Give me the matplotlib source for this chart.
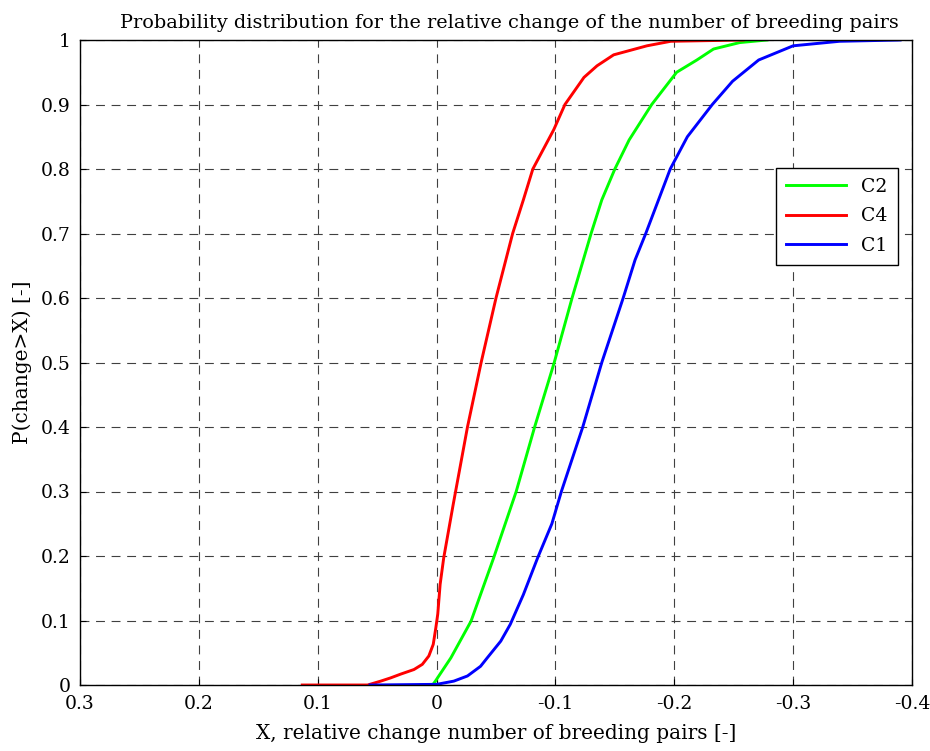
import matplotlib
matplotlib.use("Agg")
from matplotlib import pyplot as plt

c2_x = [0.013, 0.003, 0.001, -0.012, -0.029, -0.048, -0.067, -0.0825, -0.099,
        -0.114, -0.130, -0.139, -0.150, -0.162, -0.181, -0.202, -0.219, -0.233, -0.255,
        -0.278]
c2_y = [0.0, 0.001, 0.006, 0.042, 0.099, 0.197, 0.300, 0.400, 0.500,
        0.600, 0.700, 0.752, 0.800, 0.845, 0.900, 0.950, 0.969, 0.986, 0.996,
        1.0]

c4_x = [0.113, 0.058, 0.047, 0.0387, 0.030, 0.019, 0.012, 0.0065, 0.0028, 0.0006,
        -0.001, -0.003, -0.006, -0.014, -0.026, -0.0375, -0.050, -0.064,
        -0.073, -0.081, -0.0986, -0.108, -0.124, -0.135, -0.149, -0.177, -0.197,
        -0.258]
c4_y = [0.0, 0.0, 0.006, 0.011, 0.017, 0.024, 0.032, 0.045, 0.063, 0.089,
        0.110, 0.156, 0.197, 0.280, 0.400, 0.500, 0.600, 0.700,
        0.752, 0.800, 0.861, 0.900, 0.942, 0.960, 0.977, 0.991, 0.998,
        1.0]

c1_x = [0.056, 0.0, -0.0145, -0.026, -0.037, -0.0426, -0.054, -0.062, -0.073, -0.085,
        -0.097, -0.105, -0.123, -0.139, -0.157, -0.167, -0.176, -0.1966, -0.211,
        -0.232, -0.249, -0.271, -0.300, -0.339, -0.390]
c1_y = [0.0, 0.001, 0.006, 0.014, 0.029, 0.042, 0.068, 0.094, 0.140, 0.197,
        0.250, 0.300, 0.400, 0.500, 0.600, 0.659, 0.700, 0.800, 0.850,
        0.900, 0.936, 0.969, 0.991, 0.998, 1.0]

x_ticks = [0.3, 0.2, 0.1, 0, -0.1, -0.2, -0.3, -0.4]
x_labels = ["0.3", "0.2", "0.1", "0", "-0.1", "-0.2", "-0.3", "-0.4"]
y_ticks = [0, 0.1, 0.2, 0.3, 0.4, 0.5, 0.6, 0.7, 0.8, 0.9, 1]
y_labels = ["0", "0.1", "0.2", "0.3", "0.4", "0.5", "0.6", "0.7", "0.8", "0.9", "1"]

plt.rcParams['font.family'] = ['DejaVu Serif']
plt.rcParams['font.size'] = 13.5

fig = plt.figure(figsize=(9.3, 7.51), dpi=100)
ax = fig.add_axes([80 / 930, 1 - 685 / 751, 832 / 930, 645 / 751])

ax.plot(c2_x, c2_y, color='#00ff00', lw=2.1, label='C2')
ax.plot(c4_x, c4_y, color='#ff0000', lw=2.1, label='C4')
ax.plot(c1_x, c1_y, color='#0000ff', lw=2.1, label='C1')

ax.set_xlim(0.3, -0.4)
ax.set_ylim(0, 1)
ax.set_xticks(x_ticks)
ax.set_xticklabels(x_labels)
ax.set_yticks(y_ticks)
ax.set_yticklabels(y_labels)
ax.tick_params(direction='in', length=4, pad=7, labelsize=13.5)

ax.grid(True, color='#404040', lw=0.8, linestyle=(0, (8, 6)))
for s in ax.spines.values():
    s.set_linewidth(1.0)

ax.set_title("Probability distribution for the relative change of the number of breeding pairs",
             fontsize=13.9, pad=9, x=0.516)
ax.set_xlabel("X, relative change number of breeding pairs [-]", fontsize=14.4, labelpad=8)
ax.set_ylabel("P(change>X) [-]", fontsize=14.5, labelpad=6)

leg = ax.legend(loc='upper right', bbox_to_anchor=(0.983, 0.802), borderaxespad=0,
                fancybox=False, framealpha=1, edgecolor='black', handlelength=3.2,
                borderpad=0.55, fontsize=13.5, labelspacing=0.6)
leg.get_frame().set_linewidth(1.0)

fig.savefig("out.png", dpi=100)
